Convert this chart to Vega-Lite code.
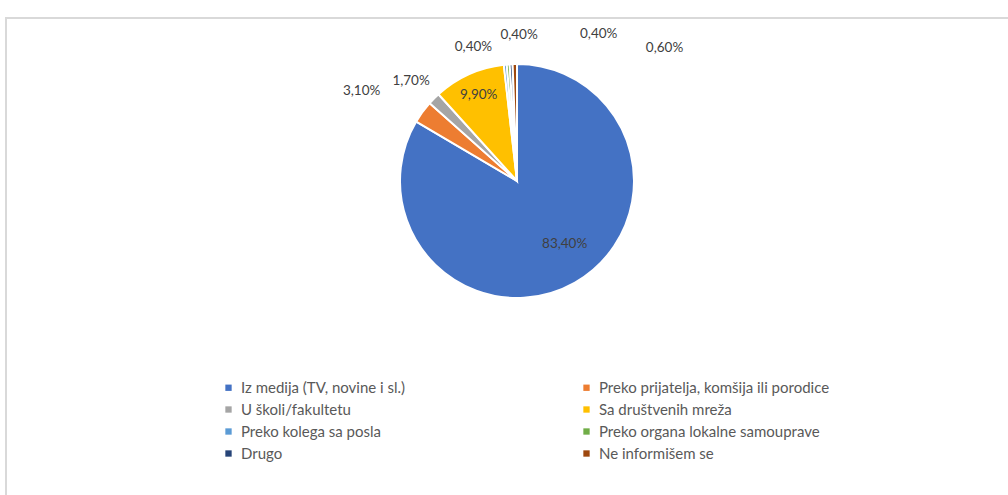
{
  "$schema": "https://vega.github.io/schema/vega-lite/v6.json",
  "width": 1008,
  "height": 495,
  "autosize": {"type": "fit", "contains": "padding"},
  "padding": {"left": 6, "top": 10, "right": -3, "bottom": -3},
  "background": "#ffffff",
  "data": {
    "values": [
      {"cat": "Iz medija (TV, novine i sl.)", "v": 0.834, "i": 1},
      {"cat": "Preko prijatelja, komšija ili porodice", "v": 0.031, "i": 2},
      {"cat": "U školi/fakultetu", "v": 0.017, "i": 3},
      {"cat": "Sa društvenih mreža", "v": 0.099, "i": 4},
      {"cat": "Preko kolega sa posla", "v": 0.004, "i": 5},
      {"cat": "Preko organa lokalne samouprave", "v": 0.004, "i": 6},
      {"cat": "Drugo", "v": 0.004, "i": 7},
      {"cat": "Ne informišem se", "v": 0.006, "i": 8}
    ]
  },
  "encoding": {
    "theta": {"field": "v", "type": "quantitative", "stack": true},
    "order": {"field": "i", "type": "quantitative"},
    "x": {"value": 511},
    "y": {"value": 163}
  },
  "layer": [
    {
      "mark": {"type": "arc", "outerRadius": 117, "stroke": "#ffffff", "strokeWidth": 2},
      "encoding": {
        "color": {
          "field": "cat",
          "type": "nominal",
          "scale": {
            "domain": ["Iz medija (TV, novine i sl.)", "Preko prijatelja, komšija ili porodice", "U školi/fakultetu", "Sa društvenih mreža", "Preko kolega sa posla", "Preko organa lokalne samouprave", "Drugo", "Ne informišem se"],
            "range": ["#4472C4", "#ED7D31", "#A5A5A5", "#FFC000", "#5B9BD5", "#70AD47", "#264478", "#9E480E"]
          },
          "legend": {
            "title": null,
            "orient": "none",
            "direction": "horizontal",
            "legendX": 215,
            "legendY": 362,
            "columns": 2,
            "columnPadding": 173,
            "rowPadding": 6,
            "symbolType": "square",
            "symbolSize": 40,
            "symbolStrokeWidth": 0,
            "labelFont": "Lato",
            "labelFontSize": 15,
            "labelColor": "#595959",
            "labelLimit": 500,
            "labelOffset": 5
          }
        }
      }
    },
    {
      "mark": {"type": "text", "radius": 80, "dx": 8, "dy": -6},
      "encoding": {"detail": {"field": "cat"}, "text": {"condition": {"test": "datum.i === 1", "field": "v", "type": "quantitative", "format": ".2%"}, "value": ""}}
    },
    {
      "mark": {"type": "text", "radius": 180, "dx": -10, "dy": 16},
      "encoding": {"detail": {"field": "cat"}, "text": {"condition": {"test": "datum.i === 2", "field": "v", "type": "quantitative", "format": ".2%"}, "value": ""}}
    },
    {
      "mark": {"type": "text", "radius": 145, "dx": -3, "dy": 2},
      "encoding": {"detail": {"field": "cat"}, "text": {"condition": {"test": "datum.i === 3", "field": "v", "type": "quantitative", "format": ".2%"}, "value": ""}}
    },
    {
      "mark": {"type": "text", "radius": 93, "dx": 0, "dy": -1},
      "encoding": {"detail": {"field": "cat"}, "text": {"condition": {"test": "datum.i === 4", "field": "v", "type": "quantitative", "format": ".2%"}, "value": ""}}
    },
    {
      "mark": {"type": "text", "radius": 135, "dx": -30, "dy": 0},
      "encoding": {"detail": {"field": "cat"}, "text": {"condition": {"test": "datum.i === 5", "field": "v", "type": "quantitative", "format": ".2%"}, "value": ""}}
    },
    {
      "mark": {"type": "text", "radius": 145, "dx": 13, "dy": -1},
      "encoding": {"detail": {"field": "cat"}, "text": {"condition": {"test": "datum.i === 6", "field": "v", "type": "quantitative", "format": ".2%"}, "value": ""}}
    },
    {
      "mark": {"type": "text", "radius": 145, "dx": 89, "dy": -2},
      "encoding": {"detail": {"field": "cat"}, "text": {"condition": {"test": "datum.i === 7", "field": "v", "type": "quantitative", "format": ".2%"}, "value": ""}}
    },
    {
      "mark": {"type": "text", "radius": 131, "dx": 150, "dy": -2},
      "encoding": {"detail": {"field": "cat"}, "text": {"condition": {"test": "datum.i === 8", "field": "v", "type": "quantitative", "format": ".2%"}, "value": ""}}
    }
  ],
  "config": {
    "locale": {"number": {"decimal": ",", "thousands": ".", "grouping": [3], "currency": ["", " €"]}},
    "view": {"stroke": "#d9d9d9", "strokeWidth": 2},
    "text": {"font": "Lato", "fontSize": 13.5, "fill": "#404040", "align": "center", "baseline": "middle"}
  }
}
